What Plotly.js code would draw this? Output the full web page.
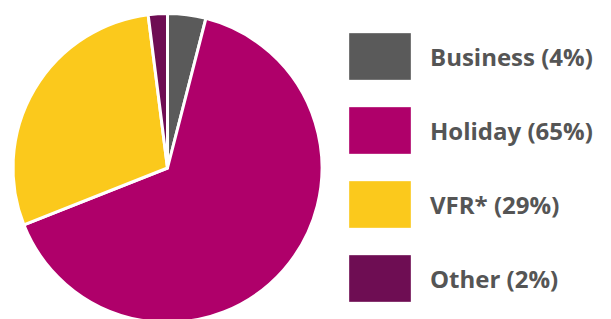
<!DOCTYPE html>
<html><head><meta charset="utf-8">
<script src="https://cdn.plot.ly/plotly-3.0.1.min.js"></script>
<style>html,body{margin:0;padding:0;overflow:hidden;background:#fff;}#chart{width:611px;height:336px;}</style>
</head><body><div id="chart"></div>
<script>
const categories = ["Business", "Holiday", "VFR*", "Other"];
const shares = [4, 65, 29, 2];
const legendLabels = ["Business (4%)", "Holiday (65%)", "VFR* (29%)", "Other (2%)"];
const colors = ["#5a5a5a", "#af006a", "#fbc91c", "#6e0d53"];

const W = 611, H = 336;
const shapes = [], annotations = [];
const sqX0 = 349, sqX1 = 411, sqH = 47, top0 = 33, step = 74;
categories.forEach((c, i) => {
  const y0 = top0 + i * step;
  shapes.push({type: "rect", xref: "paper", yref: "paper",
    x0: sqX0 / W, x1: sqX1 / W, y0: 1 - (y0 + sqH) / H, y1: 1 - y0 / H,
    fillcolor: colors[i], line: {color: "rgba(255,255,255,0.35)", width: 1}});
  annotations.push({xref: "paper", yref: "paper", x: 428 / W, y: 1 - (y0 + sqH / 2) / H,
    xanchor: "left", yanchor: "middle", showarrow: false, text: "<b>" + legendLabels[i] + "</b>",
    font: {family: "Open Sans, sans-serif", size: 24, color: "#555555"}});
});

Plotly.newPlot("chart", [{
  type: "pie", labels: categories, values: shares, sort: false, direction: "clockwise", rotation: 0,
  marker: {colors: colors, line: {color: "#ffffff", width: 3}},
  textinfo: "none", hoverinfo: "skip", showlegend: false,
  domain: {x: [13 / W, 322 / W], y: [(H - 322.5) / H, (H - 13.5) / H]}
}], {
  width: W, height: H, margin: {l: 0, r: 0, t: 0, b: 0},
  paper_bgcolor: "#ffffff", showlegend: false, shapes: shapes, annotations: annotations
}, {staticPlot: true});
</script></body></html>
